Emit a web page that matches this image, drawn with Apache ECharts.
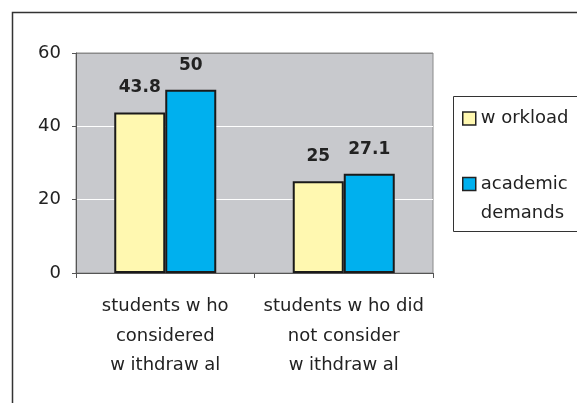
<!DOCTYPE html>
<html>
<head>
<meta charset="utf-8">
<script src="https://cdn.jsdelivr.net/npm/echarts@6/dist/echarts.min.js"></script>
<style>
html,body{margin:0;padding:0;background:#fff;}
#chart{width:577px;height:403px;}
</style>
</head>
<body>
<div id="chart"></div>
<script>
var categories = ['students w ho\nconsidered\nw ithdraw al', 'students w ho did\nnot consider\nw ithdraw al'];
var seriesNames = ['w orkload', 'academic\ndemands'];
var workload = [43.8, 25];
var academicDemands = [50, 27.1];
var yTicks = [0, 20, 40, 60];

var FONT = '"DejaVu Sans", Arial, sans-serif';
var FS = 18;
var chart = echarts.init(document.getElementById('chart'), null, {renderer: 'canvas'});
var option = {
  animation: false,
  backgroundColor: '#ffffff',
  grid: {
    left: 76, top: 53, right: 144, bottom: 130,
    show: true, backgroundColor: '#C8C9CD', borderColor: '#8a8a8a', borderWidth: 1
  },
  graphic: [
    {type: 'rect', z: -10, shape: {x: 12.5, y: 12.5, width: 620, height: 420},
     style: {fill: 'none', stroke: '#333', lineWidth: 1.5}},
    {type: 'rect', z: 1, shape: {x: 453.5, y: 96.5, width: 130, height: 135},
     style: {fill: '#fff', stroke: '#333', lineWidth: 1}}
  ],
  legend: [
    {
      data: [{name: seriesNames[0]}],
      left: 462, top: 109.5, padding: 0, z: 5,
      icon: 'rect', itemWidth: 13, itemHeight: 13,
      itemStyle: {borderColor: '#222', borderWidth: 1.5},
      textStyle: {fontFamily: FONT, fontSize: FS, color: '#222'}
    },
    {
      data: [{name: seriesNames[1]}],
      left: 462, top: 140.5, padding: 0, z: 5,
      icon: 'rect', itemWidth: 13, itemHeight: 13,
      itemStyle: {borderColor: '#222', borderWidth: 1.5},
      formatter: function (name) { return ' \n' + name; },
      textStyle: {fontFamily: FONT, fontSize: FS, color: '#222', lineHeight: 29}
    }
  ],
  xAxis: {
    type: 'category',
    data: categories,
    axisLine: {show: true, lineStyle: {color: '#555', width: 1}},
    axisTick: {show: true, alignWithLabel: false, length: 5, lineStyle: {color: '#555'}},
    axisLabel: {fontFamily: FONT, fontSize: FS, color: '#222', lineHeight: 29.5, margin: 19, interval: 0}
  },
  yAxis: {
    type: 'value',
    min: yTicks[0], max: yTicks[yTicks.length - 1], interval: 20,
    axisLine: {show: true, lineStyle: {color: '#555', width: 1}},
    axisTick: {show: true, length: 4, lineStyle: {color: '#555'}},
    axisLabel: {fontFamily: FONT, fontSize: FS, color: '#222', margin: 15},
    splitLine: {show: true, lineStyle: {color: ['#C8C9CD', '#ffffff', '#ffffff', '#8a8a8a'], width: 1}}
  },
  series: [
    {
      name: seriesNames[0], type: 'bar', data: workload,
      barWidth: 51, barGap: '0%',
      itemStyle: {color: '#FFF8B0', borderColor: '#1a1a1a', borderWidth: 2},
      label: {show: true, position: 'top', distance: 16, fontFamily: FONT, fontSize: 17, fontWeight: 'bold', color: '#222'}
    },
    {
      name: seriesNames[1], type: 'bar', data: academicDemands,
      barWidth: 51, barGap: '0%',
      itemStyle: {color: '#00B0EE', borderColor: '#1a1a1a', borderWidth: 2},
      label: {show: true, position: 'top', distance: 16, fontFamily: FONT, fontSize: 17, fontWeight: 'bold', color: '#222'}
    }
  ]
};
chart.setOption(option);
</script>
</body>
</html>
